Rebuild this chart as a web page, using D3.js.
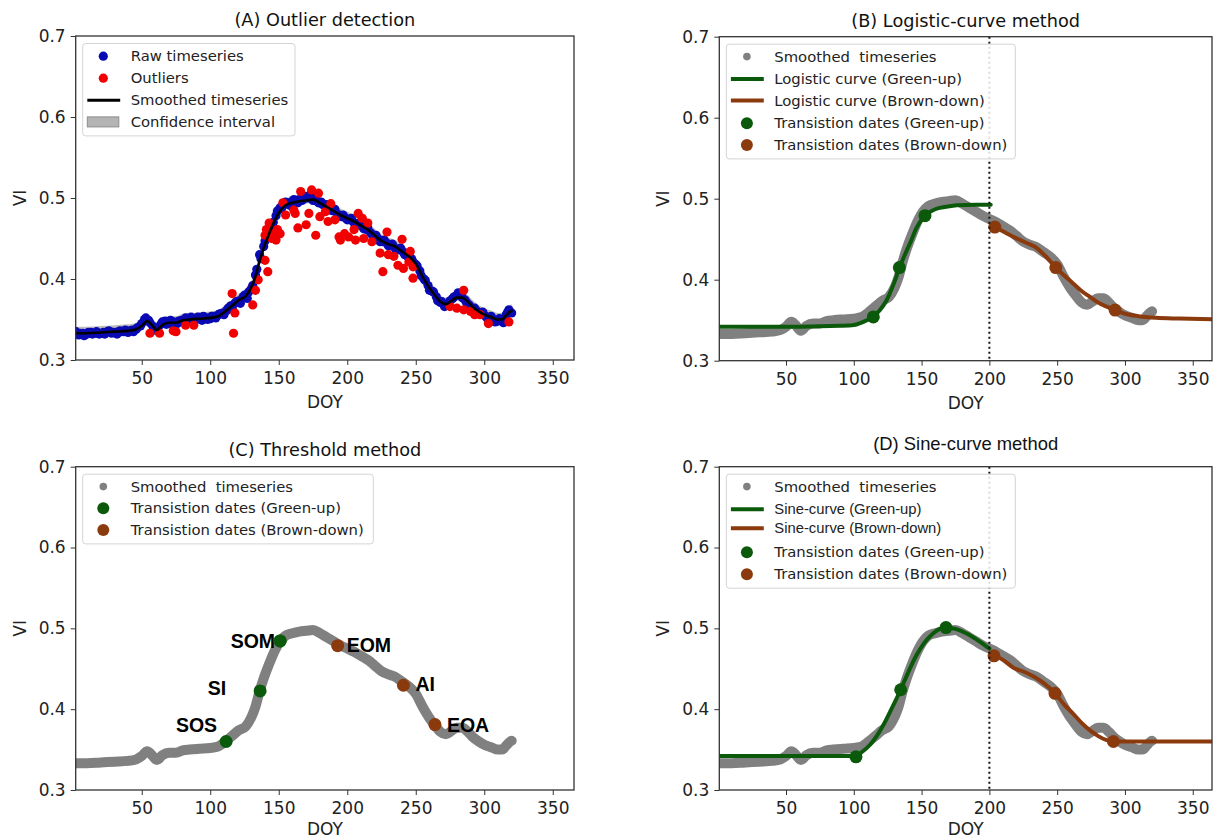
<!DOCTYPE html>
<html>
<head>
<meta charset="utf-8">
<script src="https://cdn.jsdelivr.net/npm/d3@7"></script>
<style>
  body { margin: 0; background: #fff; }
  svg { display: block; }
  text { white-space: pre; }
  .tick text { font-family: "DejaVu Sans", sans-serif; font-size: 17px; fill: #222; }
  .tick line { stroke: #333; }
</style>
</head>
<body>
<div id="chart"></div>
<script>
// ---- data ----
const xTicks = [50, 100, 150, 200, 250, 300, 350];
const yTicks = [0.3, 0.4, 0.5, 0.6, 0.7];

const smoothDoy = [1,10,20,30,40,46,50,54,57,61,65,70,75,80,85,92,100,106,111,116,121,126,130,133,136,139,143,147,151,155,160,165,170,175,180,185,190,195,200,205,210,215,220,225,230,235,240,245,250,255,260,264,268,272,276,280,284,288,292,296,300,305,310,313,316,319,320];
const smoothVI = [.333,.333,.334,.335,.336,.338,.342,.348,.344,.337,.343,.346,.346,.349,.350,.351,.352,.354,.360,.367,.374,.379,.390,.403,.422,.438,.456,.472,.484,.491,.494,.496,.497,.498,.494,.489,.484,.479,.475,.471,.466,.461,.454,.447,.443,.440,.434,.428,.419,.403,.389,.380,.372,.369,.373,.377,.377,.372,.365,.360,.356,.353,.350,.350,.355,.360,.361];
const ciUpper = [.341,.341,.342,.343,.344,.346,.350,.356,.352,.345,.351,.354,.354,.357,.358,.359,.360,.362,.368,.375,.382,.387,.398,.411,.430,.446,.464,.480,.492,.499,.502,.504,.505,.506,.502,.497,.492,.487,.483,.479,.474,.469,.462,.455,.451,.448,.442,.436,.427,.411,.397,.388,.380,.377,.381,.385,.385,.380,.373,.368,.364,.361,.358,.358,.363,.368,.369];
const ciLower = [.329,.329,.330,.331,.332,.334,.338,.344,.340,.333,.339,.342,.342,.345,.346,.347,.348,.350,.356,.363,.370,.375,.386,.399,.418,.434,.452,.468,.480,.487,.490,.492,.493,.494,.490,.485,.480,.475,.471,.467,.462,.457,.450,.443,.439,.436,.430,.424,.415,.399,.385,.376,.368,.365,.369,.373,.373,.368,.361,.356,.352,.349,.346,.346,.351,.356,.357];

const rawDoy = [1,4,7,10,13,16,19,22,25,28,31,34,37,40,43,46,49,52,55,58,61,64,67,70,73,76,79,82,85,88,91,94,97,100,103,106,109,112,115,118,121,124,127,130,133,136,139,142,145,148,151,154,157,160,163,166,169,172,175,178,181,184,187,190,193,196,199,202,205,208,211,214,217,220,223,226,229,232,235,238,241,244,247,250,253,256,259,262,265,268,271,274,277,280,283,286,289,292,295,298,301,304,307,310,313,316,318,320];
const rawVI = [.332,.331,.333,.332,.334,.333,.332,.334,.335,.333,.334,.336,.335,.334,.337,.338,.342,.350,.349,.342,.336,.344,.348,.345,.347,.345,.349,.352,.348,.351,.353,.349,.352,.351,.354,.356,.358,.361,.367,.370,.373,.378,.376,.388,.405,.430,.440,.452,.466,.478,.488,.492,.494,.496,.497,.499,.502,.500,.497,.496,.495,.490,.487,.484,.480,.477,.475,.473,.469,.467,.465,.461,.457,.452,.449,.446,.444,.441,.438,.436,.433,.428,.425,.418,.410,.400,.392,.385,.378,.371,.366,.368,.376,.380,.381,.374,.368,.363,.360,.357,.354,.351,.350,.348,.349,.356,.362,.358];
const rawDoy2 = [2,5,8,11,14,17,20,23,26,29,32,35,38,41,44,47,50,53,56,59,62,65,68,71,74,77,80,83,86,89,92,95,98,101,104,107,110,113,116,119,122,125,128,131,134,137,140,143,146,149,152,155,158,161,164,167,170,173,176,179,182,185,188,191,194,197,200,203,206,209,212,215,218,221,224,227,230,233,236,239,242,245,248,251,254,257,260,263,266,269,272,275,278,281,284,287,290,293,296,299,302,305,308,311,314,317];
const rawVI2 = [.335,.333,.330,.334,.332,.335,.333,.332,.336,.334,.332,.335,.337,.336,.335,.340,.345,.352,.346,.339,.340,.347,.344,.349,.344,.348,.347,.349,.353,.349,.351,.354,.350,.354,.352,.357,.356,.364,.364,.372,.370,.380,.384,.392,.412,.425,.447,.458,.470,.484,.487,.495,.491,.498,.494,.497,.500,.504,.500,.494,.492,.492,.485,.486,.478,.479,.473,.475,.468,.469,.462,.463,.455,.454,.446,.448,.441,.443,.437,.438,.430,.430,.421,.416,.404,.398,.386,.384,.373,.372,.368,.373,.378,.383,.377,.371,.365,.364,.358,.359,.352,.354,.347,.351,.346,.359];

const outlierDoy = [56,63,73,75,82,88,116,117,118,131,133,135,140,142,140,141,143,146,148,149,145,151,153,155,161,162,164,166,170,172,174,177,179,180,184,186,188,191,194,195,198,201,205,206,208,211,212,215,218,224,226,229,230,234,237,240,241,245,246,248,248,275,280,285,285,290,293,297,303,318];
const outlierVI = [.333,.333,.336,.335,.343,.343,.382,.333,.358,.368,.386,.399,.423,.409,.454,.461,.469,.456,.448,.461,.450,.456,.494,.479,.485,.481,.463,.508,.467,.481,.510,.454,.506,.477,.483,.471,.493,.473,.452,.448,.456,.452,.461,.448,.481,.475,.450,.469,.446,.432,.409,.458,.430,.428,.417,.449,.413,.421,.434,.401,.415,.366,.364,.386,.362,.360,.356,.356,.345,.347];

// (B) logistic fits
const logGreenDoy = [1,60,90,100,107,114,119,124,129,134,138,142,146,150,154,160,168,176,190,201];
const logGreenVI  = [.342,.342,.343,.344,.348,.354,.362,.374,.393,.416,.432,.447,.463,.474,.481,.487,.490,.492,.4925,.4925];
const logBrownDoy = [202,212,220,228,235,242,249,256,262,268,274,280,286,293,300,310,323,340,366];
const logBrownVI  = [.467,.458,.451,.445,.439,.428,.415,.404,.395,.386,.379,.372,.367,.3625,.358,.355,.353,.352,.351];
const logGreenPtsDoy = [114.4, 133.6, 152.5];
const logGreenPtsVI  = [.354, .415, .479];
const logBrownPtsDoy = [204, 249, 292.7];
const logBrownPtsVI  = [.465, .415, .3625];

// (C) threshold dates
const thrLabels = ['SOS', 'SI', 'SOM', 'EOM', 'AI', 'EOA'];
const thrDoy = [111.6, 136.4, 151, 193, 241, 264];
const thrVI  = [.360, .4226, .4844, .4786, .4296, .381];

// (D) sine fits
const sinGreenDoy = [1,50,101.6,106,112,117,122,128,134.6,140,146,152,158,163,168,200];
const sinGreenVI  = [.342,.342,.342,.347,.356,.367,.381,.401,.424,.445,.466,.482,.493,.499,.501,.475];
const sinBrownDoy = [202,210,218,226,233,241,248.4,255,262,268,274,280,286,291.5,300,366];
const sinBrownVI  = [.468,.461,.451,.446,.440,.431,.4196,.406,.394,.383,.374,.367,.362,.360,.360,.360];
const sinGreenPtsDoy = [101.6, 134.6, 168];
const sinGreenPtsVI  = [.341, .424, .501];
const sinBrownPtsDoy = [203.4, 248.4, 291.5];
const sinBrownPtsVI  = [.466, .4196, .360];

const splitDoy = 200;

// ---- styles ----
const BLUE = '#0a0ab4', RED = '#f00000', GRAY = '#808080';
const GREEN = '#0b5a0b', BROWN = '#8b3a0e';
const DJ = '"DejaVu Sans", sans-serif';
const LIB = '"Liberation Sans", Arial, sans-serif';

const svg = d3.select('#chart').append('svg')
  .attr('width', 1217).attr('height', 838);
svg.append('rect').attr('width', 1217).attr('height', 838).attr('fill', '#fff');

function zip(a, b) { return a.map((d, i) => [d, b[i]]); }

function makePanel(id, box, title, titleFont, titleDy, doyDy) {
  const x = d3.scaleLinear().domain(box.xDomain).range([box.left, box.right]);
  const y = d3.scaleLinear().domain([0.3, 0.7]).range([box.bottom, box.top]);

  svg.append('clipPath').attr('id', 'clip' + id)
    .append('rect')
    .attr('x', box.left).attr('y', box.top)
    .attr('width', box.right - box.left).attr('height', box.bottom - box.top);

  svg.append('g')
    .attr('transform', `translate(0,${box.bottom})`)
    .call(d3.axisBottom(x).tickValues(xTicks).tickSize(5).tickPadding(7).tickFormat(d3.format('d')))
    .call(g => g.select('.domain').remove());

  svg.append('g')
    .attr('transform', `translate(${box.left},0)`)
    .call(d3.axisLeft(y).tickValues(yTicks).tickSize(5).tickPadding(5).tickFormat(d3.format('.1f')))
    .call(g => g.select('.domain').remove());

  svg.append('text')
    .attr('x', (box.left + box.right) / 2).attr('y', box.bottom + doyDy)
    .attr('text-anchor', 'middle')
    .style('font-family', DJ).style('font-size', '17px').attr('fill', '#222')
    .text('DOY');

  svg.append('text')
    .attr('transform', `translate(${box.left - 50},${(box.top + box.bottom) / 2}) rotate(-90)`)
    .attr('text-anchor', 'middle')
    .style('font-family', DJ).style('font-size', '17px').attr('fill', '#222')
    .text('VI');

  svg.append('text')
    .attr('x', (box.left + box.right) / 2).attr('y', box.top + titleDy)
    .attr('text-anchor', 'middle')
    .style('font-family', titleFont).style('font-size', titleFont === LIB ? '18.4px' : '17.7px')
    .attr('fill', '#111')
    .text(title);

  const plot = svg.append('g').attr('clip-path', `url(#clip${id})`);
  return {x, y, plot, box};
}

function frame(p) {
  svg.append('rect')
    .attr('x', p.box.left).attr('y', p.box.top)
    .attr('width', p.box.right - p.box.left).attr('height', p.box.bottom - p.box.top)
    .attr('fill', 'none').attr('stroke', '#333').attr('stroke-width', 1.3);
}

function curve(p, doy, vi, color, width) {
  const line = d3.line().x(d => p.x(d[0])).y(d => p.y(d[1])).curve(d3.curveMonotoneX);
  p.plot.append('path').datum(zip(doy, vi))
    .attr('d', line).attr('fill', 'none')
    .attr('stroke', color).attr('stroke-width', width)
    .attr('stroke-linecap', 'round').attr('stroke-linejoin', 'round');
}

function dots(p, doy, vi, color, r) {
  p.plot.append('g').selectAll('circle')
    .data(zip(doy, vi)).enter().append('circle')
    .attr('cx', d => p.x(d[0])).attr('cy', d => p.y(d[1]))
    .attr('r', r).attr('fill', color);
}

function splitLine(p) {
  p.plot.append('line')
    .attr('x1', p.x(splitDoy)).attr('x2', p.x(splitDoy))
    .attr('y1', p.box.top).attr('y2', p.box.bottom)
    .attr('stroke', '#111').attr('stroke-width', 2).attr('stroke-dasharray', '2,3');
}

function legend(p, w, h, items) {
  const g = svg.append('g')
    .attr('transform', `translate(${p.box.left + 7},${p.box.top + 7.5})`);
  g.append('rect').attr('width', w).attr('height', h).attr('rx', 3)
    .attr('fill', '#fff').attr('fill-opacity', 0.85)
    .attr('stroke', '#d4d4d4').attr('stroke-width', 1);
  items.forEach(it => {
    if (it.kind === 'dot') {
      g.append('circle').attr('cx', 20.6).attr('cy', it.dy).attr('r', it.r).attr('fill', it.color);
    } else if (it.kind === 'line') {
      g.append('line').attr('x1', 4.6).attr('x2', 37.5).attr('y1', it.dy).attr('y2', it.dy)
        .attr('stroke', it.color).attr('stroke-width', it.w);
    } else {
      g.append('rect').attr('x', 4.6).attr('y', it.dy - 5).attr('width', 31.5).attr('height', 10)
        .attr('fill', '#b4b4b4').attr('stroke', '#8c8c8c').attr('stroke-width', 1);
    }
    g.append('text').attr('x', 48).attr('y', it.dy).attr('dy', '0.35em')
      .style('font-family', it.font || DJ).style('font-size', '14.8px').attr('fill', '#222')
      .text(it.label);
  });
}

// ---- (A) ----
const A = makePanel('A', {left: 75.7, right: 574, top: 36, bottom: 360, xDomain: [1.8, 365.5]},
  '(A) Outlier detection', DJ, -10, 48);
A.plot.append('path')
  .datum(smoothDoy.map((d, i) => [d, ciLower[i], ciUpper[i]]))
  .attr('d', d3.area().x(d => A.x(d[0])).y0(d => A.y(d[1])).y1(d => A.y(d[2])).curve(d3.curveMonotoneX))
  .attr('fill', '#9a9a9a').attr('fill-opacity', 0.65);
dots(A, rawDoy.concat(rawDoy2), rawVI.concat(rawVI2), BLUE, 4.6);
dots(A, outlierDoy, outlierVI, RED, 4.6);
curve(A, smoothDoy, smoothVI, '#000', 2.6);
frame(A);
legend(A, 212.3, 92.4, [
  {kind: 'dot', dy: 12.7, r: 4.6, color: BLUE, label: 'Raw timeseries'},
  {kind: 'dot', dy: 34.7, r: 4.6, color: RED, label: 'Outliers'},
  {kind: 'line', dy: 56.7, w: 3, color: '#000', label: 'Smoothed timeseries'},
  {kind: 'patch', dy: 78.4, label: 'Confidence interval'}
]);

// ---- (B) ----
const B = makePanel('B', {left: 719.3, right: 1212, top: 36.7, bottom: 360.7, xDomain: [0.8, 364.2]},
  '(B) Logistic-curve method', DJ, -10, 48);
curve(B, smoothDoy, smoothVI, GRAY, 10);
curve(B, logGreenDoy, logGreenVI, GREEN, 4);
curve(B, logBrownDoy, logBrownVI, BROWN, 4);
dots(B, logGreenPtsDoy, logGreenPtsVI, GREEN, 6.5);
dots(B, logBrownPtsDoy, logBrownPtsVI, BROWN, 6.5);
splitLine(B);
frame(B);
legend(B, 289, 114.7, [
  {kind: 'dot', dy: 12.4, r: 3.8, color: GRAY, label: 'Smoothed  timeseries'},
  {kind: 'line', dy: 34.7, w: 4, color: GREEN, label: 'Logistic curve (Green-up)'},
  {kind: 'line', dy: 56.4, w: 4, color: BROWN, label: 'Logistic curve (Brown-down)'},
  {kind: 'dot', dy: 79, r: 6, color: GREEN, label: 'Transistion dates (Green-up)'},
  {kind: 'dot', dy: 100.7, r: 6, color: BROWN, label: 'Transistion dates (Brown-down)'}
]);

// ---- (C) ----
const C = makePanel('C', {left: 75.7, right: 574, top: 466.7, bottom: 790, xDomain: [1.8, 365.5]},
  '(C) Threshold method', DJ, -11, 45);
curve(C, smoothDoy, smoothVI, GRAY, 10);
dots(C, thrDoy.slice(0, 3), thrVI.slice(0, 3), GREEN, 6.5);
dots(C, thrDoy.slice(3), thrVI.slice(3), BROWN, 6.5);
frame(C);
// label offsets relative to each point
const thrOffsets = [[-9, -10, 'end'], [-34, 4, 'end'], [-5, 7, 'end'], [9, 6, 'start'], [12, 6, 'start'], [12, 7, 'start']];
svg.append('g').selectAll('text')
  .data(thrLabels).enter().append('text')
  .attr('x', (d, i) => C.x(thrDoy[i]) + thrOffsets[i][0])
  .attr('y', (d, i) => C.y(thrVI[i]) + thrOffsets[i][1])
  .attr('text-anchor', (d, i) => thrOffsets[i][2])
  .style('font-family', LIB).style('font-weight', 'bold').style('font-size', '19.5px')
  .attr('fill', '#000')
  .text(d => d);
// SOM point drawn over its label as in the reference
dots({plot: svg.append('g'), x: C.x, y: C.y}, [thrDoy[2]], [thrVI[2]], GREEN, 6.5);
legend(C, 290.6, 69.7, [
  {kind: 'dot', dy: 12.4, r: 3.8, color: GRAY, label: 'Smoothed  timeseries'},
  {kind: 'dot', dy: 34, r: 6, color: GREEN, label: 'Transistion dates (Green-up)'},
  {kind: 'dot', dy: 55.7, r: 6, color: BROWN, label: 'Transistion dates (Brown-down)'}
]);

// ---- (D) ----
const D = makePanel('D', {left: 719.3, right: 1212, top: 466.7, bottom: 790, xDomain: [0.8, 364.2]},
  '(D) Sine-curve method', LIB, -17, 45);
curve(D, smoothDoy, smoothVI, GRAY, 10);
curve(D, sinGreenDoy, sinGreenVI, GREEN, 4);
curve(D, sinBrownDoy, sinBrownVI, BROWN, 4);
dots(D, sinGreenPtsDoy, sinGreenPtsVI, GREEN, 6.5);
dots(D, sinBrownPtsDoy, sinBrownPtsVI, BROWN, 6.5);
splitLine(D);
frame(D);
legend(D, 289, 114, [
  {kind: 'dot', dy: 12.4, r: 3.8, color: GRAY, label: 'Smoothed  timeseries'},
  {kind: 'line', dy: 35, w: 4, color: GREEN, label: 'Sine-curve (Green-up)', font: LIB},
  {kind: 'line', dy: 54, w: 4, color: BROWN, label: 'Sine-curve (Brown-down)', font: LIB},
  {kind: 'dot', dy: 78, r: 6, color: GREEN, label: 'Transistion dates (Green-up)'},
  {kind: 'dot', dy: 100, r: 6, color: BROWN, label: 'Transistion dates (Brown-down)'}
]);
</script>
</body>
</html>
